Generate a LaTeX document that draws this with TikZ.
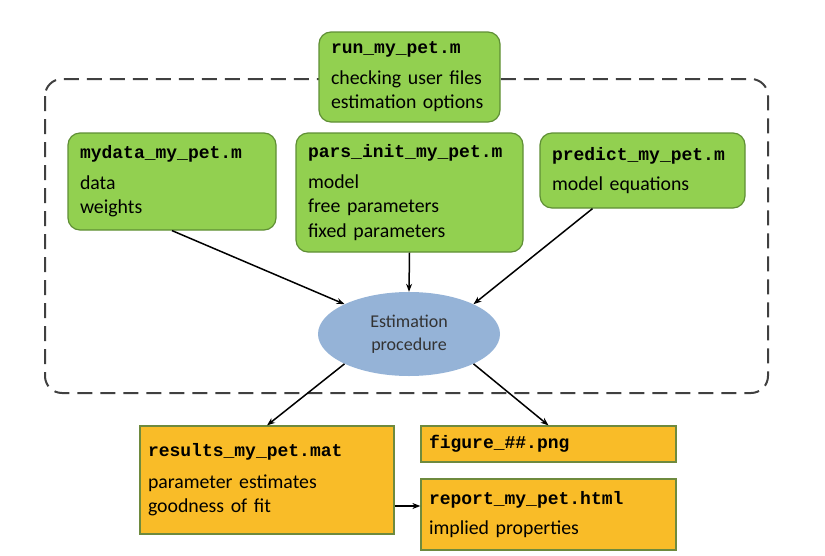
\documentclass[tikz,border=0pt]{standalone}
\usepackage{fontspec}
\setmainfont{Carlito}
\setmonofont{Liberation Mono}
\usetikzlibrary{arrows.meta,shapes.geometric,calc}
\definecolor{gfill}{HTML}{92D050}
\definecolor{gline}{HTML}{5F8F35}
\definecolor{ofill}{HTML}{F9BC28}
\definecolor{oline}{HTML}{6E8A3E}
\definecolor{efill}{HTML}{95B3D7}
\definecolor{frame}{HTML}{404040}
\newcommand{\ttl}[1]{{\fontsize{18}{24.5}\selectfont\ttfamily\bfseries #1}}
\newcommand{\nohyph}{\hyphenpenalty=10000 \exhyphenpenalty=10000 \relax}
\begin{document}
\begin{tikzpicture}[x=1pt,y=-1pt,
  box/.style={rectangle,align=left,inner ysep=0pt,
    font=\fontsize{19.8}{24.5}\selectfont\nohyph},
  gbox/.style={box,fill=gfill,draw=gline,line width=1.2pt,rounded corners=12pt,inner xsep=12pt},
  obox/.style={box,fill=ofill,draw=oline,line width=1.2pt,inner xsep=8pt},
  arr/.style={-{Stealth[length=8pt,width=6pt]},line width=1.5pt,black}]
\useasboundingbox (0,0) rectangle (825,555);
\draw[frame,line width=2pt,dash pattern=on 15pt off 8pt,rounded corners=17pt]
  (45,79) rectangle (768,393);
\node[gbox,minimum width=181pt,minimum height=90pt,text width=157pt] (run) at (409.5,77)
  {\ttl{run\_my\_pet.m}\\[6pt]checking user files\\estimation options};
\node[gbox,minimum width=208pt,minimum height=97pt,text width=184pt] (mydata) at (172,181.5)
  {\ttl{mydata\_my\_pet.m}\\[6pt]data\\weights};
\node[gbox,minimum width=227pt,minimum height=119pt,text width=203pt] (pars) at (409.5,192.5)
  {\ttl{pars\_init\_my\_pet.m}\\[6pt]model\\free parameters\\fixed parameters};
\node[gbox,minimum width=205pt,minimum height=75pt,text width=181pt] (predict) at (642.5,170.5)
  {\ttl{predict\_my\_pet.m}\\[6pt]model equations};
\node[ellipse,fill=efill,minimum width=182pt,minimum height=84pt,inner sep=0pt,align=center,
  text=black!80,font=\fontsize{18}{22.5}\selectfont] (est) at (409,334)
  {Estimation\\procedure};
\node[obox,minimum width=254pt,minimum height=108pt,text width=238pt] (results) at (267,480)
  {\ttl{results\_my\_pet.mat}\\[7pt]parameter estimates\\goodness of fit};
\node[obox,minimum width=255pt,minimum height=36pt,text width=239pt] (figure) at (548.5,444)
  {\ttl{figure\_\#\#.png}};
\node[obox,minimum width=255pt,minimum height=71pt,text width=239pt] (report) at (548.5,514.5)
  {\ttl{report\_my\_pet.html}\\[6pt]implied properties};
\coordinate (ps) at ($(predict.south)+(-50,0)$);
\coordinate (rr) at (400,506);
\draw[arr] (mydata.south) -- (est.north west);
\draw[arr] (pars.south) -- (est.north);
\draw[arr] (ps) -- (est.north east);
\draw[arr] (est.south west) -- (results.north);
\draw[arr] (est.south east) -- (figure.north);
\draw[arr] (results.east |- rr) -- (report.west |- rr);
\end{tikzpicture}
\end{document}
